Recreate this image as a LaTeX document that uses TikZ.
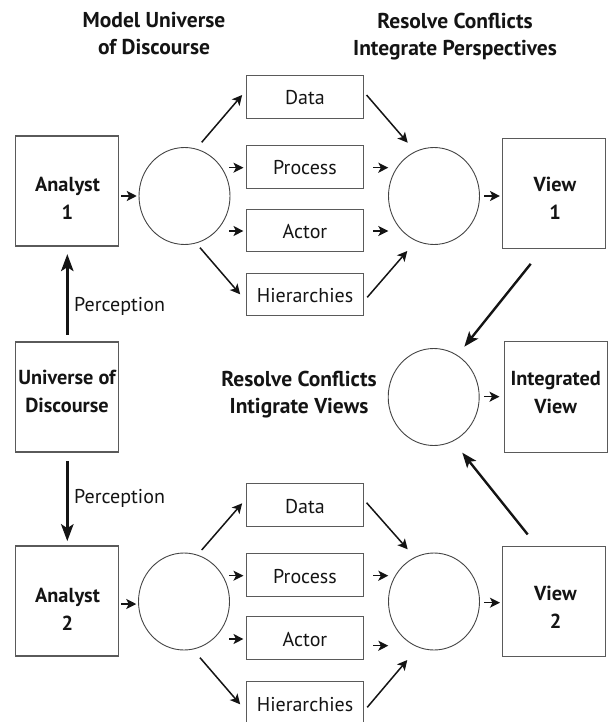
\documentclass[tikz,border=0pt]{standalone}
\usepackage{fontspec}
\setmainfont{PT Sans}
\usetikzlibrary{shapes.geometric,arrows.meta}
\definecolor{boxgray}{HTML}{5A5A5A}
\definecolor{circgray}{HTML}{444444}
\definecolor{ink}{HTML}{141414}
\begin{document}
\begin{tikzpicture}[x=1pt,y=-1pt,
  box/.style={draw=boxgray, line width=1.1pt, minimum width=103pt, minimum height=110pt, inner sep=0pt},
  boxlabel/.style={anchor=north, inner sep=0pt, align=center, text=ink, font=\fontsize{20.3}{28}\selectfont\bfseries},
  title/.style={anchor=north, inner sep=0pt, align=center, text=ink, font=\fontsize{21.5}{27}\selectfont\bfseries},
  item/.style={draw=boxgray, line width=1.1pt, minimum width=116.6pt, minimum height=42.6pt, inner sep=0pt, text height=16pt, text depth=0pt, text=ink, font=\fontsize{20}{24}\selectfont},
  proc/.style={ellipse, draw=circgray, line width=0.9pt, minimum width=91pt, minimum height=97pt, inner sep=0pt},
  arr/.style={draw=ink, line width=1.5pt, -{Stealth[length=10pt,width=10pt,inset=2.5pt]}},
  bigarr/.style={draw=ink, line width=2.4pt, -{Stealth[length=17pt,width=12.5pt,inset=4pt]}},
  thickarr/.style={draw=ink, line width=2.4pt, -{Stealth[length=15pt,width=11.5pt,inset=3.5pt]}},
  lbl/.style={anchor=base west, inner sep=0pt, text=ink, font=\fontsize{20}{24}\selectfont}
]
\useasboundingbox (0,0) rectangle (609,722);

% titles
\node[title] (t1) at (154,12.5) {Model Universe\\of Discourse};
\node[title] (t2) at (455,12.5) {Resolve Conflicts\\Integrate Perspectives};

% left column boxes
\node[box] (a1) at (67.3,191) {};
\node[boxlabel] (a1t) at (67.5,176.5) {Analyst\\1};
\node[box] (u) at (67.3,397) {};
\node[boxlabel] (ut) at (67,370) {Universe of\\Discourse};
\node[box] (a2) at (67.3,601) {};
\node[boxlabel] (a2t) at (67.5,587.5) {Analyst\\2};

% circles
\node[proc] (c1) at (184.5,196) {};
\node[proc] (c2) at (434,196) {};
\node[proc] (c3) at (433.7,397) {};
\node[proc] (c4) at (184,601.5) {};
\node[proc] (c5) at (434,601.5) {};

% perspective boxes, upper
\node[item] (d1) at (305,97) {Data};
\node[item] (p1) at (305,167) {Process};
\node[item] (ac1) at (305,230.5) {Actor};
\node[item] (h1) at (305,294.5) {Hierarchies};
% lower
\node[item] (d2) at (305,505) {Data};
\node[item] (p2) at (305,575) {Process};
\node[item] (ac2) at (305,638) {Actor};
\node[item] (h2) at (305,703) {Hierarchies};

% right boxes
\node[box] (v1) at (553.7,193.3) {};
\node[boxlabel] (v1t) at (555,176.5) {View\\1};
\node[box, minimum width=103.3pt, minimum height=110.6pt] (iv) at (555.7,397) {};
\node[boxlabel] (ivt) at (555.7,371) {Integrated\\View};
\node[box] (v2) at (553.7,601.7) {};
\node[boxlabel] (v2t) at (555.5,586) {View\\2};

% middle label
\node[title] (mid) at (299,371) {Resolve Conflicts\\Intigrate Views};

% perception
\draw[bigarr] ([shift={(0,-6.7)}]u.north) -- ([shift={(0,7.6)}]a1.south);
\draw[bigarr] ([shift={(0,8.4)}]u.south) -- ([shift={(0,-4.3)}]a2.north);
\node[lbl] (per1) at (74,311) {Perception};
\node[lbl] (per2) at (74,503) {Perception};

% upper flow
\draw[arr] ([shift={(2,5)}]a1.east) -- ([shift={(-1.8,0)}]c1.west);
\draw[arr] ([shift={(17.2,-53.7)}]c1.center) -- ([shift={(-4,-2)}]d1.west);
\draw[arr] ([shift={(44.5,-28.3)}]c1.center) -- ([shift={(-2.7,0.7)}]p1.west);
\draw[arr] ([shift={(44.5,35)}]c1.center) -- ([shift={(-2.7,0.5)}]ac1.west);
\draw[arr] ([shift={(15.5,51.7)}]c1.center) -- ([shift={(-6,-0.2)}]h1.west);
\draw[arr] ([shift={(2.7,-2)}]d1.east) -- ([shift={(-26.3,-53.3)}]c2.center);
\draw[arr] ([shift={(9.4,0.7)}]p1.east) -- ([shift={(-45.7,-28.3)}]c2.center);
\draw[arr] ([shift={(9.4,0.5)}]ac1.east) -- ([shift={(-45.7,35)}]c2.center);
\draw[arr] ([shift={(3.4,2.8)}]h1.east) -- ([shift={(-26.7,55)}]c2.center);
\draw[arr] ([shift={(50,0)}]c2.center) -- ([shift={(-1.7,2.7)}]v1.west);

% integration
\draw[thickarr] ([shift={(-23,15)}]v1.south) -- ([shift={(30.6,-50.3)}]c3.center);
\draw[thickarr] ([shift={(-26,-11.7)}]v2.north) -- ([shift={(28.6,55.7)}]c3.center);
\draw[arr] ([shift={(50.6,-0.3)}]c3.center) -- ([shift={(-4,-0.3)}]iv.west);

% lower flow
\draw[arr] ([shift={(2,3)}]a2.east) -- ([shift={(-1.8,2.5)}]c4.west);
\draw[arr] ([shift={(17.7,-51.5)}]c4.center) -- ([shift={(-4,-1.7)}]d2.west);
\draw[arr] ([shift={(45,-25.8)}]c4.center) -- ([shift={(-2.7,0.7)}]p2.west);
\draw[arr] ([shift={(45,37.5)}]c4.center) -- ([shift={(-2.7,1)}]ac2.west);
\draw[arr] ([shift={(16,56.2)}]c4.center) -- ([shift={(-6,1.3)}]h2.west);
\draw[arr] ([shift={(2.7,-2.3)}]d2.east) -- ([shift={(-26.3,-52.2)}]c5.center);
\draw[arr] ([shift={(9.4,0.7)}]p2.east) -- ([shift={(-45.7,-25.8)}]c5.center);
\draw[arr] ([shift={(9.4,7.7)}]ac2.east) -- ([shift={(-45.7,44.2)}]c5.center);
\draw[arr] ([shift={(3.4,4.3)}]h2.east) -- ([shift={(-26.7,58.5)}]c5.center);
\draw[arr] ([shift={(50.3,1.2)}]c5.center) -- ([shift={(-1.7,1)}]v2.west);
\end{tikzpicture}
\end{document}
